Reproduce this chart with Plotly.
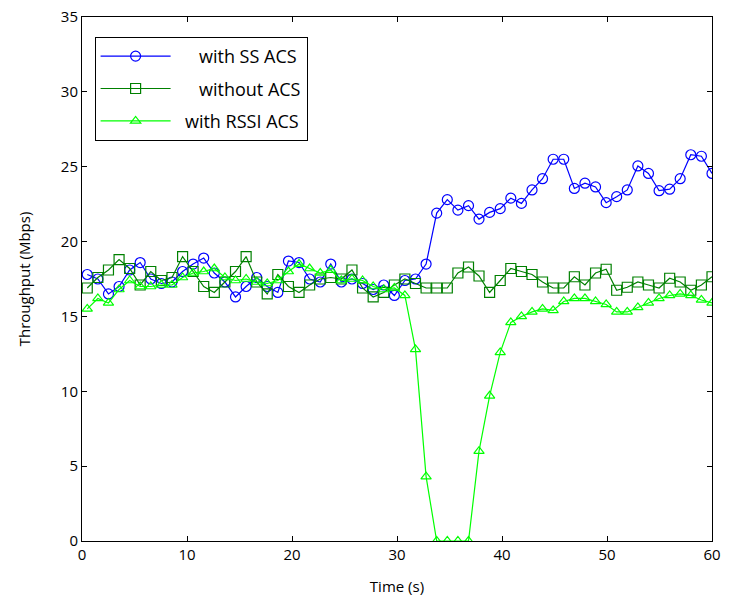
import plotly.graph_objects as go

time_s = [0.5, 1.51, 2.52, 3.53, 4.54, 5.54, 6.55, 7.56, 8.57, 9.58,
          10.58, 11.59, 12.60, 13.61, 14.62, 15.63, 16.64, 17.64, 18.65, 19.66,
          20.67, 21.68, 22.69, 23.69, 24.70, 25.71, 26.72, 27.73, 28.74, 29.75,
          30.75, 31.76, 32.77, 33.78, 34.79, 35.80, 36.81, 37.81, 38.82, 39.83,
          40.84, 41.85, 42.86, 43.86, 44.87, 45.88, 46.89, 47.90, 48.91, 49.92,
          50.92, 51.93, 52.94, 53.95, 54.96, 55.97, 56.97, 57.98, 58.99, 60.0]

with_ss_acs = [17.8, 17.5, 16.5, 17.0, 18.1, 18.6, 17.5, 17.2, 17.3, 18.0,
               18.5, 18.9, 17.9, 17.3, 16.3, 17.0, 17.6, 17.0, 16.6, 18.7,
               18.6, 17.5, 17.3, 18.5, 17.3, 17.5, 17.2, 16.8, 17.1, 16.4,
               17.4, 17.5, 18.5, 21.9, 22.8, 22.1, 22.4, 21.5, 21.95, 22.2,
               22.9, 22.55, 23.45, 24.2, 25.5, 25.5, 23.55, 23.9, 23.65, 22.6,
               23.0, 23.45, 25.05, 24.55, 23.4, 23.5, 24.2, 25.8, 25.7, 24.55]

without_acs = [16.9, 17.6, 18.1, 18.8, 18.2, 17.1, 18.0, 17.4, 17.6, 19.0,
               18.0, 17.0, 16.6, 17.3, 18.0, 19.0, 17.3, 16.5, 17.8, 17.0,
               16.6, 17.1, 17.5, 17.6, 17.5, 18.1, 16.9, 16.3, 16.6, 17.1,
               17.5, 17.2, 16.9, 16.9, 16.9, 17.9, 18.3, 17.7, 16.6, 17.4,
               18.2, 18.0, 17.8, 17.3, 16.9, 16.9, 17.65, 17.1, 17.9, 18.15,
               16.75, 16.95, 17.3, 17.1, 16.9, 17.55, 17.3, 16.75, 17.1, 17.65]

with_rssi_acs = [15.5, 16.2, 15.9, 16.8, 17.4, 17.0, 17.0, 17.1, 17.1, 17.6,
                 17.9, 18.0, 18.2, 17.6, 17.4, 17.5, 17.3, 17.2, 17.4, 18.0,
                 18.5, 18.2, 17.9, 18.1, 17.4, 17.5, 17.4, 17.0, 16.8, 16.9,
                 16.4, 12.8, 4.3, 0.0, 0.0, 0.0, 0.0, 6.0, 9.7, 12.6,
                 14.6, 15.0, 15.3, 15.5, 15.4, 16.0, 16.2, 16.2, 16.0, 15.8,
                 15.3, 15.3, 15.6, 15.9, 16.2, 16.4, 16.5, 16.4, 16.1, 15.9]

series_names = ["with SS ACS", "without ACS", "with RSSI ACS"]
legend_pad = ["     ", "     ", "  "]

FONT = "Open Sans, Liberation Sans, sans-serif"

fig = go.Figure()
specs = [
    (with_ss_acs, "#0000FF", "circle-open", 10),
    (without_acs, "#008000", "square-open", 10),
    (with_rssi_acs, "#00FF00", "triangle-up-open", 9),
]
for k, (vals, col, sym, sz) in enumerate(specs):
    fig.add_trace(go.Scatter(
        x=time_s, y=vals, name=legend_pad[k] + series_names[k], mode="lines+markers",
        legendgroup=f"g{k}",
        line=dict(color=col, width=1.2),
        marker=dict(symbol=sym, size=sz, color=col, line=dict(color=col, width=1.2)),
    ))

axis_common = dict(
    showgrid=False, zeroline=False, showline=True, mirror="ticks",
    linecolor="black", linewidth=1, ticks="inside", ticklen=5,
    tickcolor="black", tickfont=dict(family=FONT, size=15, color="black"),
    automargin=False,
)

fig.update_layout(
    width=729, height=598,
    margin=dict(l=82, r=17, t=17, b=57),
    paper_bgcolor="white", plot_bgcolor="white",
    font=dict(family=FONT, size=15, color="black"),
    xaxis=dict(range=[0, 60], dtick=10, title=dict(text="Time (s)", standoff=18,
               font=dict(family=FONT, size=15)), **axis_common),
    yaxis=dict(range=[0, 35], dtick=5, title=dict(text="Throughput (Mbps)", standoff=26,
               font=dict(family=FONT, size=15)), **axis_common),
    legend=dict(
        x=0.02, y=0.962, xanchor="left", yanchor="top",
        bgcolor="white", bordercolor="black", borderwidth=1,
        font=dict(family=FONT, size=18, color="black"),
        itemwidth=70, tracegroupgap=6, traceorder="grouped",
    ),
    showlegend=True,
)

fig.write_html("out.html", config={"displayModeBar": False},
               post_script="document.body.style.margin='0';")
